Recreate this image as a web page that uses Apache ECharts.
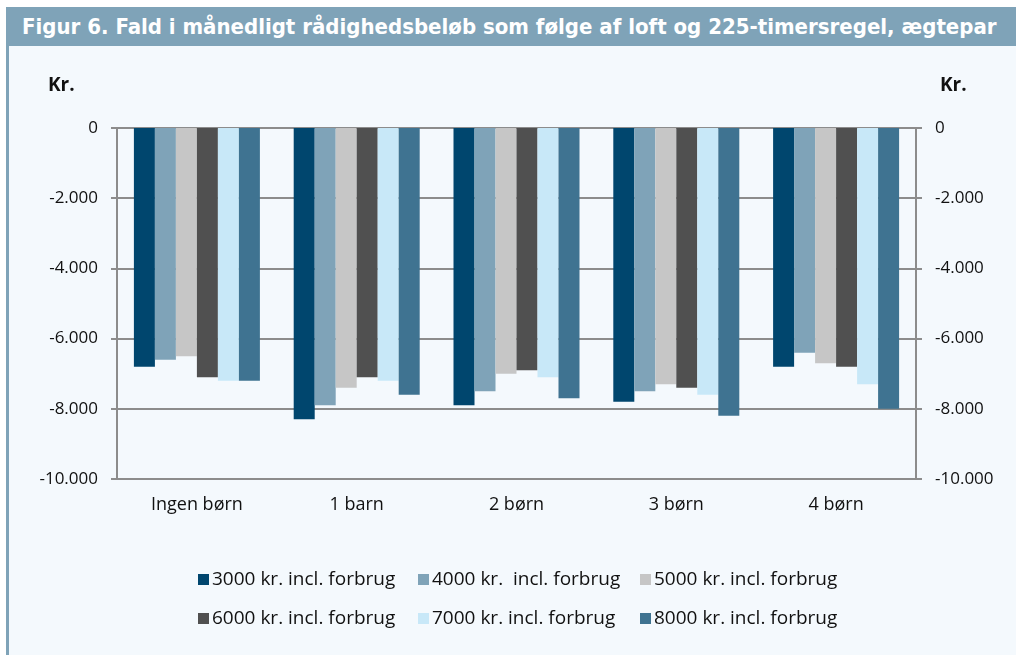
<!DOCTYPE html>
<html>
<head>
<meta charset="utf-8">
<script src="https://cdn.jsdelivr.net/npm/echarts@6/dist/echarts.min.js"></script>
<style>
  html, body { margin: 0; padding: 0; background: #ffffff; }
  #wrap { position: relative; width: 1016px; height: 655px; overflow: hidden; }
  #title {
    position: absolute; left: 6px; top: 7px; width: 1010px; height: 39px;
    background: #7fa3b8; color: #ffffff;
    font-family: "Liberation Sans Narrow", "DejaVu Sans Condensed", "Noto Sans", sans-serif;
    font-weight: bold; font-size: 22px; line-height: 39px; padding-left: 16px;
    white-space: nowrap; box-sizing: border-box;
  }
  #edge { position: absolute; left: 6px; top: 46px; width: 3px; height: 609px; background: #7fa3b8; }
  #main { position: absolute; left: 9px; top: 46px; width: 1007px; height: 609px; background: #f4f9fd; }
</style>
</head>
<body>
<div id="wrap">
  <div id="title">Figur 6. Fald i månedligt rådighedsbeløb som følge af loft og 225-timersregel, ægtepar</div>
  <div id="edge"></div>
  <div id="main"></div>
</div>
<script>
// kategorier og serier
var categories = ['Ingen børn', '1 barn', '2 børn', '3 børn', '4 børn'];
var seriesNames = [
  '3000 kr. incl. forbrug',
  '4000 kr.  incl. forbrug',
  '5000 kr. incl. forbrug',
  '6000 kr. incl. forbrug',
  '7000 kr. incl. forbrug',
  '8000 kr. incl. forbrug'
];
var v3000 = [-6800, -8300, -7900, -7800, -6800];
var v4000 = [-6600, -7900, -7500, -7500, -6400];
var v5000 = [-6500, -7400, -7000, -7300, -6700];
var v6000 = [-7100, -7100, -6900, -7400, -6800];
var v7000 = [-7200, -7200, -7100, -7600, -7300];
var v8000 = [-7200, -7600, -7700, -8200, -8000];
var colors = ['#00466e', '#7fa3b8', '#c6c6c6', '#505050', '#c8e8f8', '#3f7391'];

var values = [v3000, v4000, v5000, v6000, v7000, v8000];
var font = '"Open Sans", Lato, sans-serif';

function fmt(v) {
  var s = Math.abs(v).toString().replace(/\B(?=(\d{3})+(?!\d))/g, '.');
  return (v < 0 ? '-' : '') + s;
}

var yAxisBase = {
  type: 'value', min: -10000, max: 0, interval: 2000,
  axisLine: { show: true, lineStyle: { color: '#8c8c8c', width: 2 } },
  axisTick: { show: true, length: 6, lineStyle: { color: '#8c8c8c', width: 2 } },
  splitLine: { show: true, lineStyle: { color: '#8c8c8c', width: 2 } },
  axisLabel: { formatter: fmt, color: '#111', fontSize: 17, fontFamily: font, margin: 19 }
};

// legenden lagt ud i tre kolonner, to rækker
var legX = [184, 404, 626];
var legY = [519, 558];
var legends = seriesNames.map(function (n, i) {
  return {
    data: [n], left: legX[i % 3], top: legY[Math.floor(i / 3)],
    itemWidth: 11, itemHeight: 11, itemGap: 0, icon: 'rect',
    textStyle: { fontSize: 19, color: '#111', fontFamily: font, padding: [0, 0, 0, -2] }
  };
});

var chart = echarts.init(document.getElementById('main'));
chart.setOption({
  animation: false,
  color: colors,
  grid: { left: 108, right: 100, top: 82, bottom: 176 },
  graphic: [
    { type: 'text', left: 39, top: 30, style: { text: 'Kr.', fontSize: 19, fontWeight: 'bold', fontFamily: font, fill: '#111' } },
    { type: 'text', left: 931, top: 30, style: { text: 'Kr.', fontSize: 19, fontWeight: 'bold', fontFamily: font, fill: '#111' } }
  ],
  legend: legends,
  xAxis: {
    type: 'category', data: categories, position: 'bottom',
    axisLine: { show: false, onZero: false }, axisTick: { show: false },
    axisLabel: { color: '#111', fontSize: 18, fontFamily: font, margin: 17 }
  },
  yAxis: [
    Object.assign({}, yAxisBase, { position: 'left' }),
    Object.assign({}, yAxisBase, { position: 'right', splitLine: { show: false } })
  ],
  series: values.map(function (d, i) {
    return {
      name: seriesNames[i], type: 'bar', data: d, yAxisIndex: 0,
      barWidth: 21, barGap: '0%',
      itemStyle: { color: colors[i] }
    };
  })
});
</script>
</body>
</html>
